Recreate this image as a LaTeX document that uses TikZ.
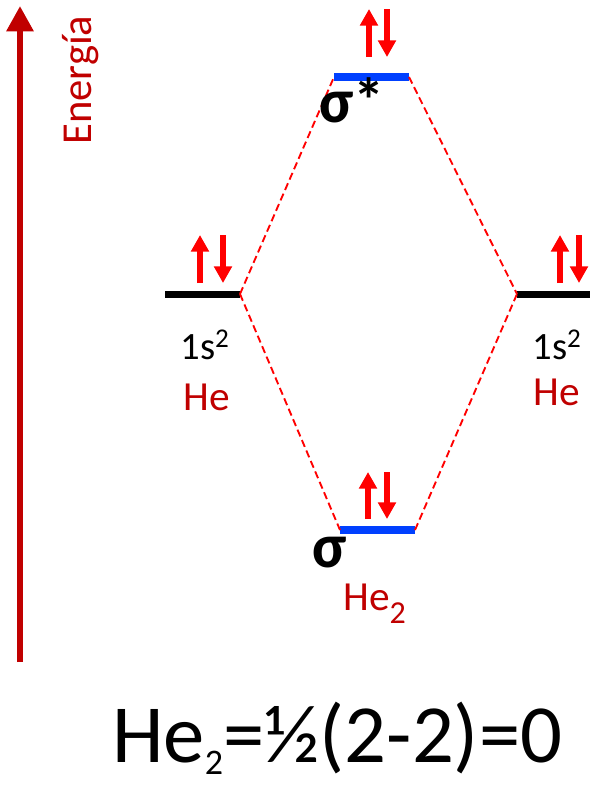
\documentclass[tikz,border=0pt]{standalone}
\usepackage{fontspec}
\setmainfont{Carlito}
\usetikzlibrary{arrows.meta,positioning}
\definecolor{darkred}{RGB}{192,0,0}
\definecolor{spinred}{RGB}{255,0,0}
\definecolor{moblue}{RGB}{0,64,255}
\tikzset{
  aolevel/.style={line width=5.25pt, draw=black},
  molevel/.style={line width=5.5pt, draw=moblue},
  corr/.style={draw=spinred, line width=1.4pt, dash pattern=on 5.5pt off 3pt},
  spin/.style={-{Triangle[length=12.5pt, width=13pt]}, line width=4.2pt, draw=spinred},
  energyarrow/.style={-{Triangle[length=19pt, width=19.5pt]}, line width=4.5pt, draw=darkred},
  label/.style={inner sep=0pt, font=\fontsize{29}{34}\selectfont},
  atomname/.style={label, text=darkred, font=\fontsize{31}{36}\selectfont},
  moname/.style={anchor=base west, inner sep=0pt, font=\fontsize{47}{52}\selectfont\bfseries}
}
\begin{document}
\begin{tikzpicture}[x=0.75pt, y=-0.75pt]
  \useasboundingbox (0,0) rectangle (590,786);
  % energy axis
  \coordinate (Ebot) at (20,662);
  \coordinate (Etop) at (20,6);
  \draw[energyarrow] (Ebot) -- (Etop);
  \node[rotate=90, anchor=base west, inner sep=0pt, text=darkred,
        font=\fontsize{32}{36}\selectfont] (energy) at (91,145) {Energía};
  % atomic levels
  \coordinate (Aw) at (165,294); \coordinate (Ae) at (240,294);
  \coordinate (Bw) at (517,294); \coordinate (Be) at (590,294);
  \draw[aolevel] (Aw) -- (Ae);
  \draw[aolevel] (Bw) -- (Be);
  % molecular levels
  \coordinate (Sw) at (334,77);  \coordinate (Se) at (409,77);
  \coordinate (Bdw) at (340,530); \coordinate (Bde) at (415,530);
  \draw[molevel] (Sw) -- (Se);
  \draw[molevel] (Bdw) -- (Bde);
  % correlation lines
  \draw[corr] (Ae) -- (Sw);
  \draw[corr] (Se) -- (Bw);
  \draw[corr] (Ae) -- (Bdw);
  \draw[corr] (Bde) -- (Bw);
  % electrons
  \foreach \n/\xu/\xd/\yb/\yt in {a/200/223/283/235, b/560/579/283/235,
                                  s/369/387/57/9, d/368/387/519/472}{
    \coordinate (\n u1) at (\xu,\yb); \coordinate (\n u2) at (\xu,\yt);
    \coordinate (\n d1) at (\xd,\yt); \coordinate (\n d2) at (\xd,\yb);
    \draw[spin] (\n u1) -- (\n u2);
    \draw[spin] (\n d1) -- (\n d2);
  }
  % labels
  \node[label] (confA) at (205,345) {1s\textsuperscript{2}};
  \node[atomname] (heA) at (207,397) {He};
  \node[label] (confB) at (557,345) {1s\textsuperscript{2}};
  \node[atomname] (heB) at (557,392) {He};
  \node[moname] (sstar) at (319,122) {σ*};
  \node[moname] (sbond) at (312,567) {σ};
  \node[atomname, anchor=base west] (hetwo) at (343,610)
        {He\raisebox{-10pt}{\fontsize{24}{26}\selectfont 2}};
  \node[anchor=base west, inner sep=0pt, font=\fontsize{62}{68}\selectfont]
        (order) at (112,762) {He\raisebox{-9pt}{\fontsize{27}{30}\selectfont 2}=½(2-2)=0};
\end{tikzpicture}
\end{document}
